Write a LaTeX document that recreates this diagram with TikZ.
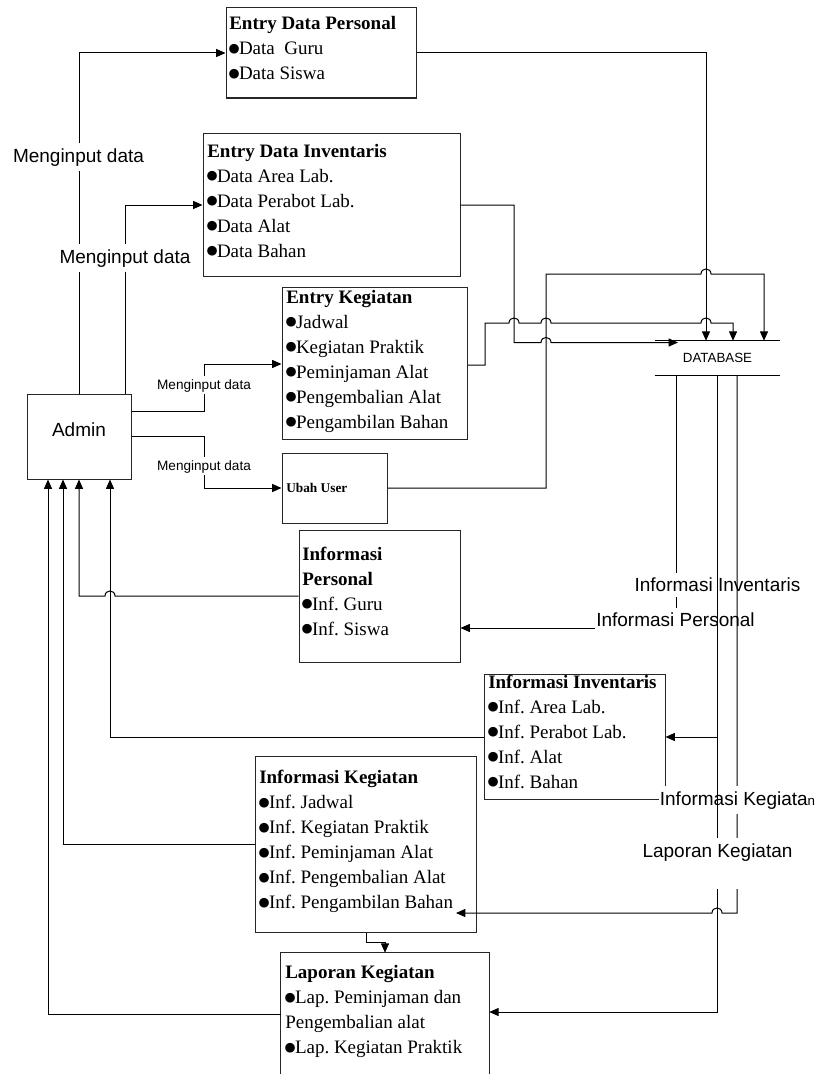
\documentclass[tikz,border=0pt]{standalone}
\usepackage{fontspec}
\setmainfont{Liberation Serif}
\setsansfont{Liberation Sans}
\newfontfamily\dotfont{DejaVu Sans}
\usetikzlibrary{arrows.meta,fit}
\frenchspacing
% list bullet: a solid dot centred about the middle of the lower-case letters
\newcommand\bul{\makebox[7.3pt][c]{\raisebox{\dimexpr 4.4pt-0.5\height+0.5\depth\relax}{\dotfont\fontsize{9.5pt}{9.5pt}\selectfont ●}}}

\begin{document}
\begin{tikzpicture}[x=0.75pt,y=-0.75pt,
  box/.style={draw=black!85, line width=0.75pt, inner sep=0pt},
  txt/.style={anchor=north west, inner sep=0pt, align=left,
    font=\fontsize{14.25pt}{18.75pt}\selectfont, execute at begin node=\strut},
  wire/.style={line width=0.75pt, draw=black},
  arr/.style={wire, -{Triangle[length=7pt,width=6pt]}},
  flow/.style={font=\sffamily\fontsize{14.25pt}{17pt}\selectfont, fill=white,
    inner xsep=1pt, inner ysep=4pt, anchor=base},
  flowsm/.style={font=\sffamily\fontsize{10.2pt}{12pt}\selectfont, fill=white,
    inner xsep=1pt, inner ysep=2pt, anchor=base},
]
\useasboundingbox (0,0) rectangle (814,1074);

% ---------- process boxes ----------
\node[box, fit={(226,8) (416,98)}] (edp) {};
\node[box, fit={(203,133) (460,276)}] (edi) {};
\node[box, fit={(282,287) (467,439)}] (ek) {};
\node[box, fit={(282,453) (387,523)}] (uu) {};
\node[box, fit={(27,394) (131,479)}, font=\sffamily\fontsize{14.25pt}{17pt}\selectfont] (admin) {Admin};
\node[box, fit={(299,530) (460,662)}] (ip) {};
\node[box, fit={(484,674) (665,799)}] (ii) {};
\node[box, fit={(255,756) (476,932)}] (ik) {};
\node[inner sep=0pt, fit={(281,953) (489,1074)}] (lk) {};
\draw[box] (lk.south west) -- (lk.north west) -- (lk.north east) -- (lk.south east);

% ---------- data store ----------
\node[inner sep=0pt, minimum width=93.75pt, minimum height=25.5pt,
  font=\sffamily\fontsize{10pt}{12pt}\selectfont] (db) at (717.5,358) {DATABASE};
\draw[wire] (db.north west) -- (db.north east) (db.south west) -- (db.south east);

% ---------- box contents ----------
\node[txt] (tEDP) at (229,16.5) {\textbf{Entry Data Personal}\\\bul Data\ \ Guru\\\bul Data Siswa};
\node[txt] (tEDI) at (207,144) {\textbf{Entry Data Inventaris}\\\bul Data Area Lab.\\\bul Data Perabot Lab.\\\bul Data Alat\\\bul Data Bahan};
\node[txt] (tEK) at (286,289.8) {\textbf{Entry Kegiatan}\\\bul Jadwal\\\bul Kegiatan Praktik\\\bul Peminjaman Alat\\\bul Pengembalian Alat\\\bul Pengambilan Bahan};
\node[anchor=base west, inner sep=0pt, font=\bfseries\fontsize{10pt}{12pt}\selectfont] (tUU) at (286,492.7) {Ubah User};
\node[txt] (tIP) at (302,546.5) {\textbf{Informasi}\\\textbf{Personal}\\\bul Inf. Guru\\\bul Inf. Siswa};
\node[txt] (tII) at (488,674.8) {\textbf{Informasi Inventaris}\\\bul Inf. Area Lab.\\\bul Inf. Perabot Lab.\\\bul Inf. Alat\\\bul Inf. Bahan};
\node[txt] (tIK) at (259,770.2) {\textbf{Informasi Kegiatan}\\\bul Inf. Jadwal\\\bul Inf. Kegiatan Praktik\\\bul Inf. Peminjaman Alat\\\bul Inf. Pengembalian Alat\\\bul Inf. Pengambilan Bahan};
\node[txt] (tLK) at (285,965.2) {\textbf{Laporan Kegiatan}\\\bul Lap. Peminjaman dan\\Pengembalian alat\\\bul Lap. Kegiatan Praktik};

% ---------- bend points ----------
\coordinate (a1) at (79,53);
\coordinate (a2) at (125,205);
\coordinate (a3) at (204,411);  \coordinate (a3b) at (204,364);
\coordinate (a4) at (204,436);  \coordinate (a4b) at (204,488);
\coordinate (d1) at (706,53);
\coordinate (d2) at (514,205);  \coordinate (d2b) at (514,342.5); \coordinate (d2c) at (678,342.5);
\coordinate (d3) at (485,365);  \coordinate (d3b) at (733,323);
\coordinate (d4) at (546,488);  \coordinate (d4b) at (764,274);
\coordinate (b1) at (79,596);
\coordinate (b2) at (110,737);
\coordinate (b3) at (63,844);
\coordinate (b4) at (48,1014);
\coordinate (e1) at (676,628);
\coordinate (e2) at (717,737);
\coordinate (e3) at (737,913);  \coordinate (e3b) at (456,913);
\coordinate (e4) at (717,1012);
\coordinate (f1) at (366,942);  \coordinate (f2) at (385,942);

% ---------- admin inputs ----------
\draw[arr] (admin.north -| a1) -- (a1) -- (edp.west |- a1);
\draw[arr] (admin.north -| a2) -- (a2) -- (edi.west |- a2);
\draw[arr] (admin.east |- a3) -- (a3) -- (a3b) -- (ek.west |- a3b);
\draw[arr] (admin.east |- a4) -- (a4) -- (a4b) -- (uu.west |- a4b);
\node[flow] (m1) at (78.5,162) {Menginput data};
\node[flow] (m2) at (125,263) {Menginput data};
\node[flowsm] (m3) at (204,389) {Menginput data};
\node[flowsm] (m4) at (204,470) {Menginput data};

% ---------- writes to the database ----------
\draw[arr] (edp.east |- d1) -- (d1) -- (db.north -| d1);
\draw[arr] (edi.east |- d2) -- (d2) -- (d2b) -- (541,342.5)
  .. controls (541,335.8) and (551,335.8) .. (551,342.5) -- (d2c);
\draw[arr] (ek.east |- d3) -- (d3) -- (485,323) -- (509,323)
  .. controls (509,316.3) and (519,316.3) .. (519,323) -- (541,323)
  .. controls (541,316.3) and (551,316.3) .. (551,323) -- (701,323)
  .. controls (701,316.3) and (711,316.3) .. (711,323) -- (d3b) -- (db.north -| d3b);
\draw[arr] (uu.east |- d4) -- (d4) -- (546,274) -- (701,274)
  .. controls (701,267.3) and (711,267.3) .. (711,274) -- (d4b) -- (db.north -| d4b);

% ---------- information back to admin ----------
\draw[arr] (ip.west |- b1) -- (115,596) .. controls (115,589.3) and (105,589.3) .. (105,596)
  -- (b1) -- (admin.south -| b1);
\draw[arr] (ii.west |- b2) -- (b2) -- (admin.south -| b2);
\draw[arr] (ik.west |- b3) -- (b3) -- (admin.south -| b3);
\draw[arr] (lk.west |- b4) -- (b4) -- (admin.south -| b4);
\draw[arr] (ik.south -| f1) -- (f1) -- (f2) -- (lk.north -| f2);

% ---------- reads from the database ----------
\draw[arr] (db.south -| e1) -- (e1) -- (ip.east |- e1);
\node[flow] (lInfP) at (675.5,626.7) {Informasi Personal};
\node[flow] (lInfI) at (717.5,591.7) {Informasi Inventaris};
\draw[arr] (db.south -| e3) -- (e3) -- (722,913)
  .. controls (722,906.3) and (712,906.3) .. (712,913) -- (e3b);
\node[flow] (lInfK) at (737.5,805) {Informasi Kegiata{\fontsize{10pt}{12pt}\selectfont n}};
\draw[arr] (db.south -| e2) -- (e2) -- (ii.east |- e2);
\draw[arr] (db.south -| e4) -- (e4) -- (lk.east |- e4);
\node[flow, text depth=20pt] (lLap) at (717.5,857) {Laporan Kegiatan};
\end{tikzpicture}
\end{document}
